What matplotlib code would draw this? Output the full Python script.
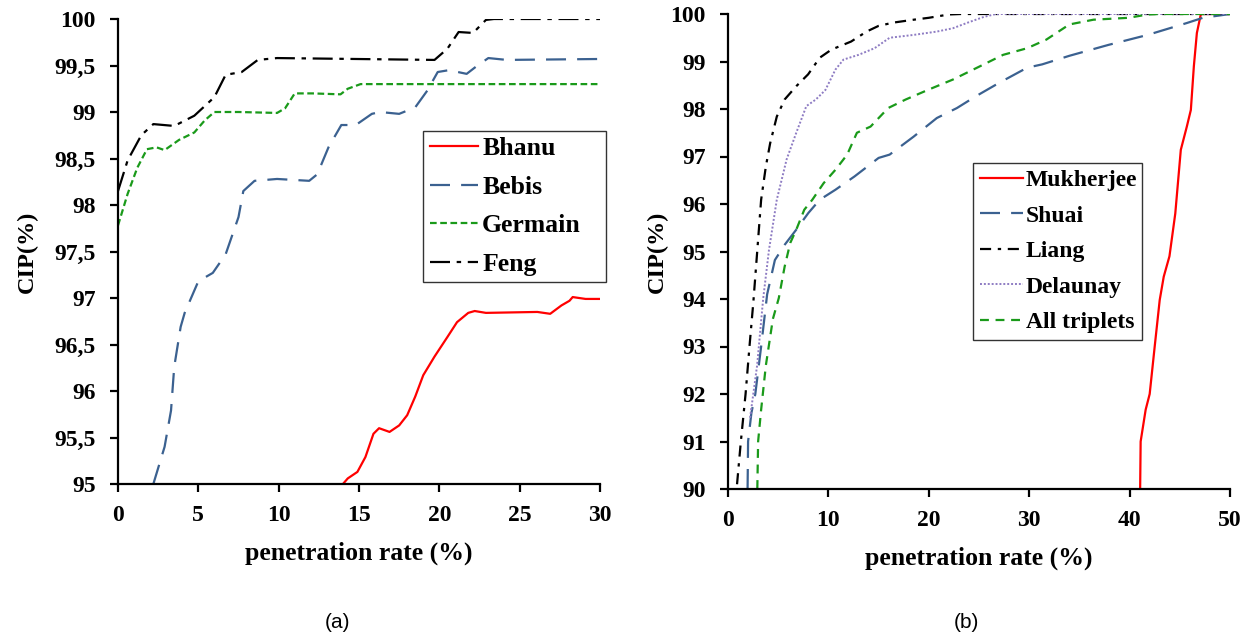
import numpy as np
import matplotlib.pyplot as plt
from matplotlib.ticker import FuncFormatter

# ---- panel (a) data ----
bhanu_x = [14.0, 14.3, 14.9, 15.4, 15.9, 16.25, 16.9, 17.5, 18.0, 18.5, 19.0, 19.7, 20.5, 21.1, 21.8, 22.2, 22.9, 26.1, 26.9, 27.6, 28.1, 28.3, 29.1, 30.0]
bhanu_y = [95.0, 95.06, 95.13, 95.29, 95.54, 95.6, 95.56, 95.63, 95.74, 95.94, 96.17, 96.37, 96.58, 96.74, 96.84, 96.86, 96.84, 96.85, 96.83, 96.92, 96.97, 97.01, 96.99, 96.99]

bebis_x = [2.2, 2.9, 3.3, 3.5, 3.9, 4.15, 5.0, 5.9, 6.7, 7.5, 7.8, 8.5, 9.9, 11.9, 12.4, 13.1, 13.9, 14.8, 15.8, 16.3, 17.5, 18.5, 19.25, 19.9, 20.6, 21.7, 22.3, 23.05, 24.2, 30.0]
bebis_y = [95.0, 95.4, 95.79, 96.26, 96.69, 96.84, 97.18, 97.27, 97.47, 97.87, 98.15, 98.26, 98.28, 98.26, 98.33, 98.62, 98.86, 98.86, 98.98, 99.0, 98.98, 99.05, 99.23, 99.43, 99.45, 99.41, 99.49, 99.58, 99.56, 99.57]

germain_x = [0.0, 0.6, 1.2, 1.8, 2.4, 2.9, 3.8, 4.75, 5.4, 6.0, 7.5, 9.9, 10.4, 11.0, 12.1, 13.85, 14.3, 15.1, 30.0]
germain_y = [97.78, 98.12, 98.4, 98.6, 98.62, 98.59, 98.7, 98.78, 98.91, 99.0, 99.0, 98.99, 99.04, 99.2, 99.2, 99.19, 99.25, 99.3, 99.3]

feng_x = [0.0, 0.6, 1.45, 2.2, 3.5, 4.75, 6.0, 6.7, 7.7, 8.7, 9.9, 19.7, 20.5, 21.2, 22.1, 22.9, 23.4, 30.0]
feng_y = [98.15, 98.48, 98.75, 98.87, 98.85, 98.96, 99.16, 99.4, 99.43, 99.56, 99.58, 99.56, 99.68, 99.86, 99.85, 99.99, 100.0, 100.0]

# ---- panel (b) data ----
mukherjee_x = [41.05, 41.1, 41.6, 42.0, 42.5, 43.0, 43.4, 43.97, 44.55, 45.1, 45.7, 46.1, 46.4, 46.7, 47.1, 50.0]
mukherjee_y = [90.0, 91.0, 91.67, 92.0, 93.0, 93.98, 94.47, 94.9, 95.8, 97.14, 97.63, 97.98, 98.9, 99.6, 100.0, 100.0]

shuai_x = [1.95, 2.0, 2.33, 2.72, 3.3, 3.9, 4.67, 5.64, 6.8, 8.0, 9.14, 10.7, 12.6, 15.0, 16.1, 18.5, 20.8, 22.8, 24.7, 27.0, 29.8, 31.3, 34.0, 37.9, 41.8, 45.7, 47.3, 50.0]
shuai_y = [90.0, 91.0, 91.6, 92.0, 93.0, 94.1, 94.82, 95.14, 95.46, 95.81, 96.09, 96.3, 96.58, 96.97, 97.04, 97.42, 97.81, 98.02, 98.27, 98.55, 98.87, 98.94, 99.12, 99.35, 99.56, 99.81, 99.92, 100.0]

liang_x = [0.9, 1.28, 1.75, 2.14, 2.53, 2.92, 3.3, 3.77, 4.2, 4.86, 5.64, 6.8, 7.98, 9.14, 10.3, 12.26, 13.8, 15.0, 16.5, 18.5, 20.0, 22.0, 23.2, 50.0]
liang_y = [90.1, 91.0, 92.0, 93.0, 93.95, 95.03, 96.09, 96.79, 97.28, 97.84, 98.2, 98.48, 98.73, 99.08, 99.25, 99.42, 99.63, 99.75, 99.82, 99.88, 99.92, 99.99, 100.0, 100.0]

delaunay_x = [2.2, 2.9, 3.5, 4.08, 4.86, 5.84, 6.8, 7.8, 8.75, 9.7, 10.7, 11.5, 13.0, 14.6, 16.1, 18.5, 20.8, 22.4, 23.9, 25.5, 26.7, 50.0]
delaunay_y = [91.5, 92.6, 94.0, 95.03, 96.09, 96.94, 97.5, 98.06, 98.2, 98.4, 98.83, 99.04, 99.14, 99.28, 99.5, 99.56, 99.63, 99.7, 99.82, 99.94, 100.0, 100.0]

triplets_x = [2.92, 3.0, 3.3, 3.77, 4.47, 5.06, 5.64, 6.2, 6.8, 7.6, 8.4, 9.53, 10.7, 11.87, 12.84, 14.2, 15.95, 17.7, 20.0, 22.4, 25.1, 27.4, 29.8, 31.7, 34.0, 36.4, 39.9, 41.8, 43.0, 50.0]
triplets_y = [90.0, 91.0, 91.67, 92.6, 93.58, 94.02, 94.68, 95.18, 95.46, 95.88, 96.09, 96.44, 96.72, 97.04, 97.5, 97.63, 98.02, 98.2, 98.41, 98.62, 98.9, 99.14, 99.28, 99.46, 99.78, 99.88, 99.92, 99.99, 100.0, 100.0]

RED = '#ff0000'
BLUE = '#3b6190'
GREEN = '#1a9a1a'
PURPLE = '#8e7cc3'

serif = 'Liberation Serif'
plt.rcParams['font.family'] = serif
plt.rcParams['font.weight'] = 'bold'

fig = plt.figure(figsize=(12.52, 6.41), dpi=100)
ax1 = fig.add_axes([118 / 1252, 1 - 484 / 641, 482 / 1252, 465 / 641])
ax2 = fig.add_axes([728 / 1252, 1 - 489 / 641, 502 / 1252, 475 / 641])


def style_axes(ax, ypad):
    for s in ['top', 'right']:
        ax.spines[s].set_visible(False)
    for s in ['left', 'bottom']:
        ax.spines[s].set_linewidth(1.6)
    ax.tick_params(direction='out', length=6, width=1.6, labelsize=17)
    ax.tick_params(axis='y', pad=10)
    ax.tick_params(axis='x', pad=9)
    for lab in ax.get_xticklabels() + ax.get_yticklabels():
        lab.set_fontweight('bold')
    ax.set_xlabel('penetration rate (%)', fontsize=18.5, fontweight='bold', labelpad=11)
    ax.set_ylabel('CIP(%)', fontsize=17.5, fontweight='bold', labelpad=ypad)


# (a)
ax1.plot(bhanu_x, bhanu_y, color=RED, lw=1.6, label='Bhanu')
ax1.plot(bebis_x, bebis_y, color=BLUE, lw=1.6, dashes=(9, 5), label='Bebis')
ax1.plot(germain_x, germain_y, color=GREEN, lw=1.6, dashes=(3, 1.6), label='Germain')
ax1.plot(feng_x, feng_y, color='black', lw=1.6, dashes=(9, 3, 2, 3), label='Feng')
ax1.set_xlim(0, 30)
ax1.set_ylim(95, 100)
ax1.set_xticks(np.arange(0, 31, 5))
ax1.set_yticks(np.arange(95, 100.01, 0.5))
ax1.yaxis.set_major_formatter(FuncFormatter(lambda v, p: ('%g' % v).replace('.', ',')))
style_axes(ax1, 12)
leg1 = ax1.legend(loc='upper left', bbox_to_anchor=(0.633, 0.434, 0.380, 0.325),
                  mode='expand', frameon=True, fancybox=False, edgecolor='black',
                  prop={'family': serif, 'weight': 'bold', 'size': 18.5},
                  handlelength=1.9, handletextpad=0.15, labelspacing=0.6,
                  borderpad=0.25, borderaxespad=0)
leg1.get_frame().set_linewidth(1.0)

# (b)
ax2.plot(mukherjee_x, mukherjee_y, color=RED, lw=1.6, label='Mukherjee')
ax2.plot(shuai_x, shuai_y, color=BLUE, lw=1.6, dashes=(9, 5), label='Shuai')
ax2.plot(liang_x, liang_y, color='black', lw=1.6, dashes=(5, 3, 1.5, 3), label='Liang')
ax2.plot(delaunay_x, delaunay_y, color=PURPLE, lw=1.4, dashes=(1, 1), label='Delaunay')
ax2.plot(triplets_x, triplets_y, color=GREEN, lw=1.6, dashes=(4, 3), label='All triplets')
ax2.set_xlim(0, 50)
ax2.set_ylim(90, 100)
ax2.set_xticks(np.arange(0, 51, 10))
ax2.set_yticks(np.arange(90, 101, 1))
style_axes(ax2, 2)
leg2 = ax2.legend(loc='upper left', bbox_to_anchor=(0.488, 0.314, 0.337, 0.373),
                  mode='expand', frameon=True, fancybox=False, edgecolor='black',
                  prop={'family': serif, 'weight': 'bold', 'size': 17},
                  handlelength=1.8, handletextpad=0.15, labelspacing=0.59,
                  borderpad=0.3, borderaxespad=0)
leg2.get_frame().set_linewidth(1.0)

fig.text(338 / 1252, 1 - 622 / 641, '(a)', ha='center', va='center',
         family='Liberation Sans', fontweight='normal', fontsize=15)
fig.text(966 / 1252, 1 - 622 / 641, '(b)', ha='center', va='center',
         family='Liberation Sans', fontweight='normal', fontsize=15)

fig.savefig('out.png', dpi=100)
